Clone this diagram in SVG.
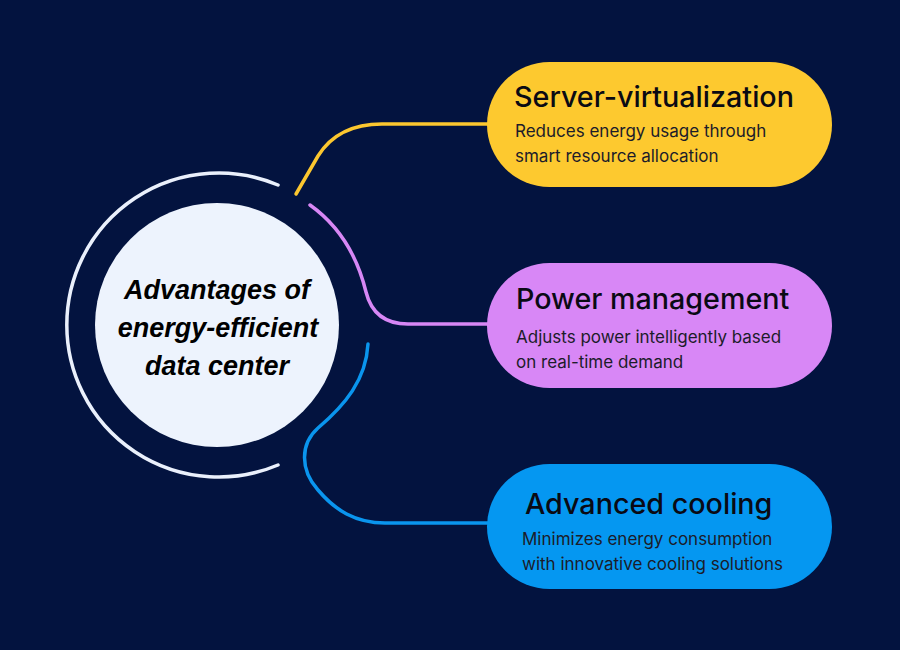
<svg xmlns="http://www.w3.org/2000/svg" width="900" height="650" viewBox="0 0 900 650">
<style>
.conn{fill:none;stroke-width:3.5;stroke-linecap:round}
.title{font-family:Inter,"Noto Sans",sans-serif;font-weight:500;font-size:28.7px;fill:#0a0a14}
.sub{font-family:Inter,"Noto Sans",sans-serif;font-size:17px;fill:#1c1c2a}
.center{font-family:"Liberation Sans",Arial,sans-serif;font-weight:bold;font-style:italic;font-size:27px;fill:#000;text-anchor:middle}
</style>
<rect width="900" height="650" fill="#03133f"/>
<g id="connectors">
<path class="conn" stroke="#fcc72f" d="M296,194 L318,156 Q338,124 382,124 L490,124"/>
<path class="conn" stroke="#d787f5" d="M310,205 C338,225 357,255 366,292 Q374,324 408,324 L490,324"/>
<path class="conn" stroke="#0a95ee" d="M368,344 C366,380 345,405 318,428 C300,444 300,470 318,490 C335,510 355,523 385,523 L490,523"/>
</g>
<g id="center">
<path d="M278,185 A152,152 0 1 0 278,465" fill="none" stroke="#eaf0fc" stroke-width="3.5" stroke-linecap="round"/>
<circle cx="217" cy="325" r="122" fill="#edf3fd"/>
<text class="center" x="217" y="299">Advantages of</text>
<text class="center" x="218" y="337">energy-efficient</text>
<text class="center" x="217" y="375">data center</text>
</g>
<g id="server-virtualization">
<rect x="487" y="62" width="345" height="125" rx="62.5" fill="#fdc92f"/>
<text class="title" x="514" y="107">Server-virtualization</text>
<text class="sub" x="515" y="137">Reduces energy usage through</text>
<text class="sub" x="515" y="162">smart resource allocation</text>
</g>
<g id="power-management">
<rect x="487" y="263" width="345" height="125" rx="62.5" fill="#d887f6"/>
<text class="title" x="516" y="309">Power management</text>
<text class="sub" x="516" y="343">Adjusts power intelligently based</text>
<text class="sub" x="516" y="368">on real-time demand</text>
</g>
<g id="advanced-cooling">
<rect x="487" y="464" width="345" height="125" rx="62.5" fill="#0597f1"/>
<text class="title" x="525" y="514">Advanced cooling</text>
<text class="sub" x="522" y="545">Minimizes energy consumption</text>
<text class="sub" x="522" y="570">with innovative cooling solutions</text>
</g>
</svg>
